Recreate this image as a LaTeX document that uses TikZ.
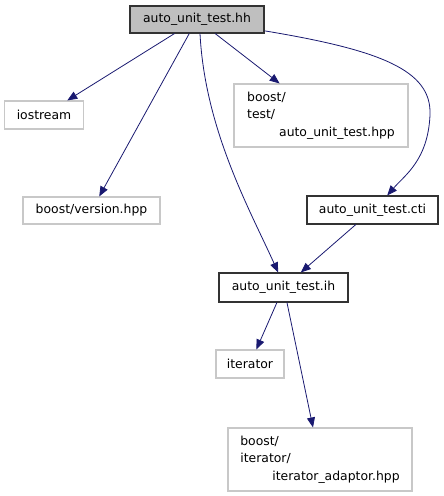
\documentclass[tikz,border=0pt]{standalone}
\usepackage{fontspec}
\setmainfont{DejaVu Sans}
\usetikzlibrary{arrows.meta}
\definecolor{edgeblue}{HTML}{191970}
\definecolor{rootgray}{HTML}{BFBFBF}
\definecolor{extgray}{HTML}{C8C8C8}

\begin{document}
\begin{tikzpicture}[x=0.75pt,y=-0.75pt,
      file/.style={draw,thick,rectangle,inner sep=0pt,font=\fontsize{9.3}{13}\selectfont},
      top/.style={file,fill=rootgray,draw=black!80},
      own/.style={file,draw=black!80},
      ext/.style={file,draw=extgray},
      inc/.style={edgeblue,semithick,-{Triangle[length=7.5pt,width=6pt]}}]
    \useasboundingbox (0,0) rectangle (443,496);
    % the header and what it pulls in
    \node[top,minimum width=134*0.75pt,minimum height=27*0.75pt] (hh) at (197,19.5) {auto\_unit\_test.hh};
    \node[ext,minimum width=79*0.75pt,minimum height=28*0.75pt] (ios) at (44,115) {iostream};
    \node[ext,minimum width=137*0.75pt,minimum height=27*0.75pt] (ver) at (91.5,210.5) {boost/version.hpp};
    \node[ext,align=left,minimum width=174*0.75pt,minimum height=63*0.75pt] (hpp) at (321,115.5)
      {boost/\\test/\\\hspace*{24pt}auto\_unit\_test.hpp};
    \node[own,minimum width=131*0.75pt,minimum height=28*0.75pt] (cti) at (372.5,210) {auto\_unit\_test.cti};
    \node[own,minimum width=129*0.75pt,minimum height=29*0.75pt] (ih) at (283.5,287.5) {auto\_unit\_test.ih};
    \node[ext,minimum width=68*0.75pt,minimum height=28*0.75pt] (it) at (250,364) {iterator};
    \node[ext,align=left,minimum width=184*0.75pt,minimum height=63*0.75pt] (ada) at (320,459.5)
      {boost/\\iterator/\\\hspace*{24pt}iterator\_adaptor.hpp};
    % include edges
    \draw[inc] (hh) -- (ios);
    \draw[inc] (hh) -- (ver);
    \draw[inc] (hh) -- (hpp);
    \draw[inc] ([xshift=2.25pt]hh.south) .. controls (205,130) and (250,210) .. ([xshift=-4pt]ih.north);
    \draw[inc] ([yshift=-8.5pt]hh.east) .. controls (380,50) and (432,70) .. (430,115)
      .. controls (428,160) and (405,175) .. ([xshift=11pt]cti.north);
    \draw[inc] (cti) -- (ih);
    \draw[inc] (ih) -- (it);
    \draw[inc] ([xshift=2.6pt]ih.south) -- ([xshift=-5.25pt]ada.north);
  \end{tikzpicture}
\end{document}
